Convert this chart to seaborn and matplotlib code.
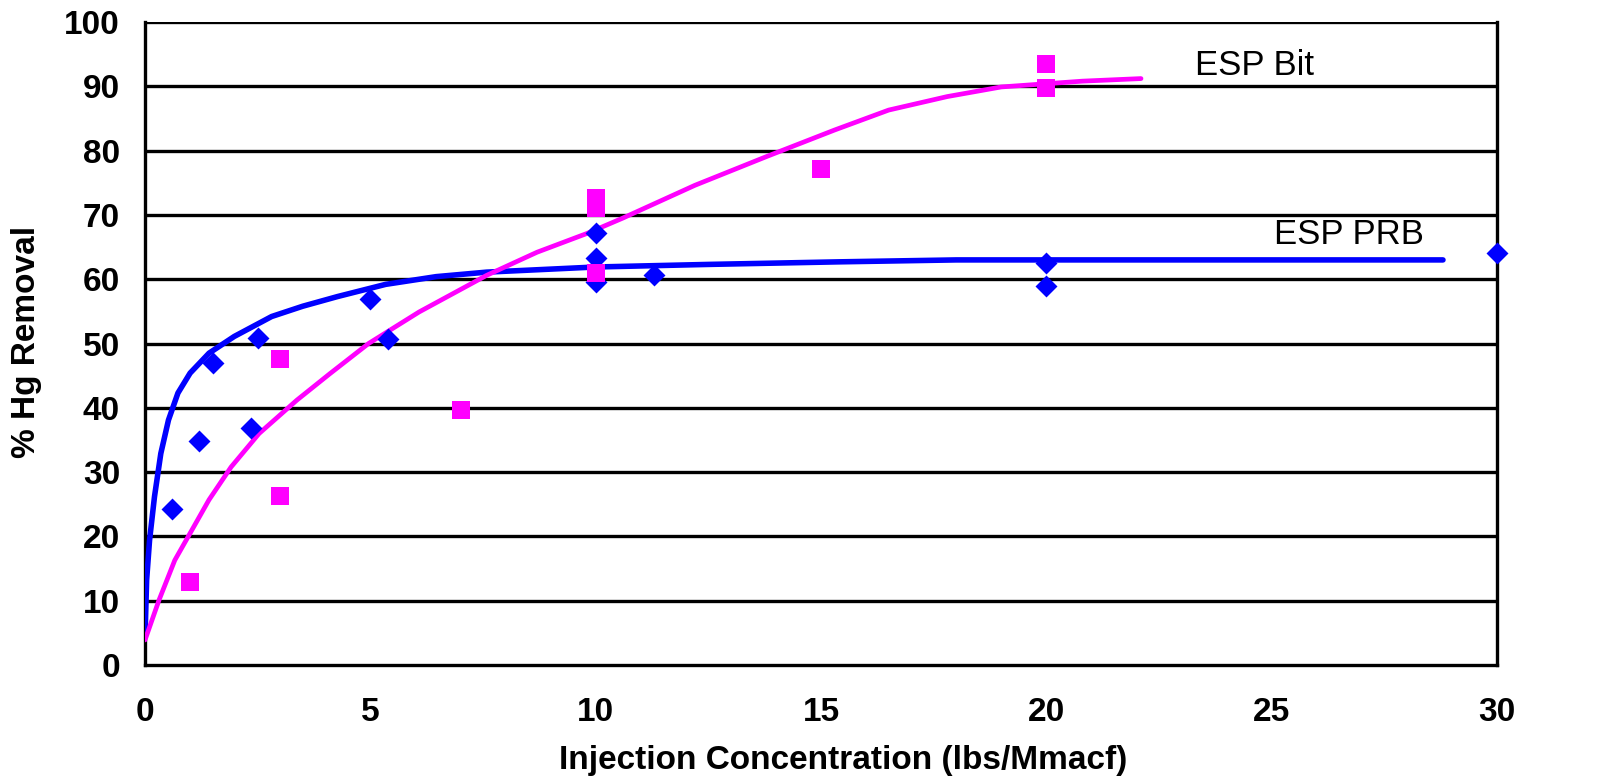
import seaborn as sns
import matplotlib.pyplot as plt

# measured points, ESP PRB (blue diamonds)
prb_x = [0.6, 1.2, 1.5, 2.35, 2.5, 5.0, 5.4, 10, 10, 10, 11.3, 20, 20, 30]
prb_y = [24.3, 34.8, 47.0, 36.9, 50.9, 56.9, 50.7, 67.2, 63.3, 59.6, 60.7, 62.5, 59.0, 64.0]

# measured points, ESP Bit (magenta squares)
bit_x = [1.0, 3.0, 3.0, 7.0, 10, 10, 10, 15, 20, 20]
bit_y = [12.9, 26.3, 47.6, 39.7, 72.6, 71.0, 61.0, 77.1, 93.5, 89.7]

# trend lines
prb_fit_x = [0, 0.035, 0.10, 0.21, 0.35, 0.52, 0.73, 1.0, 1.42, 1.98, 2.81, 3.5,
             4.27, 5.34, 6.46, 7.58, 10, 12.5, 15.4, 18, 22.5, 28.8]
prb_fit_y = [4.5, 13.2, 19.4, 26.2, 32.9, 38.1, 42.3, 45.4, 48.5, 51.1, 54.2, 55.8,
             57.3, 59.2, 60.4, 61.1, 61.9, 62.3, 62.7, 63.0, 63.0, 63.0]

bit_fit_x = [0, 0.31, 0.66, 1.0, 1.42, 1.91, 2.53, 3.37, 4.1, 4.96, 6.08, 7.58,
             8.7, 9.8, 10.6, 12.2, 13.8, 15.3, 16.5, 17.8, 19.0, 20.8, 22.1]
bit_fit_y = [3.9, 10.1, 16.3, 20.5, 25.7, 30.8, 36.0, 41.2, 45.3, 50.0, 54.9, 60.6,
             64.2, 67.1, 69.5, 74.6, 79.1, 83.2, 86.3, 88.4, 89.9, 90.8, 91.2]

BLUE = "#0000ff"
PINK = "#ff00ff"

sns.set_theme(style="white")
plt.rcParams["font.family"] = ["Liberation Sans", "DejaVu Sans"]
plt.rcParams["text.color"] = "black"
plt.rcParams["axes.labelcolor"] = "black"
plt.rcParams["xtick.color"] = "black"
plt.rcParams["ytick.color"] = "black"

fig = plt.figure(figsize=(16.08, 7.77), dpi=100)
ax = fig.add_axes([0.0902, 0.1441, 0.8408, 0.8276])

# horizontal grid
for v in range(10, 101, 10):
    ax.axhline(v, color="black", lw=2.4, zorder=1)

sns.lineplot(x=prb_fit_x, y=prb_fit_y, ax=ax, color=BLUE, lw=4.0, sort=False,
             estimator=None, zorder=3)
sns.lineplot(x=bit_fit_x, y=bit_fit_y, ax=ax, color=PINK, lw=3.4, sort=False,
             estimator=None, zorder=3)
sns.scatterplot(x=prb_x, y=prb_y, ax=ax, color=BLUE, marker="D", s=125,
                linewidth=0, zorder=4, clip_on=False)
sns.scatterplot(x=bit_x, y=bit_y, ax=ax, color=PINK, marker="s", s=169,
                linewidth=0, zorder=4)

ax.set_xlim(0, 30)
ax.set_ylim(0, 100)
ax.set_xticks(range(0, 31, 5))
ax.set_yticks(range(0, 101, 10))

for side in ["left", "right", "bottom"]:
    ax.spines[side].set_color("black")
    ax.spines[side].set_linewidth(2.4)
ax.spines["top"].set_visible(False)

ax.tick_params(axis="both", direction="out", length=7, width=2.2,
               labelsize=24)
ax.tick_params(axis="x", pad=16)
ax.tick_params(axis="y", pad=11)
for lab in ax.get_xticklabels() + ax.get_yticklabels():
    lab.set_fontweight("bold")

ax.set_xlabel("Injection Concentration (lbs/Mmacf)", fontsize=24, fontweight="bold")
ax.set_ylabel("% Hg Removal", fontsize=24, fontweight="bold")
ax.xaxis.set_label_coords(0.516, -0.124)
ax.yaxis.set_label_coords(-0.076, 0.503)

ax.text(23.3, 93.3, "ESP Bit", fontsize=25, va="center", ha="left")
ax.text(25.05, 66.9, "ESP PRB", fontsize=25, va="center", ha="left")

fig.savefig("out.png", dpi=100)
